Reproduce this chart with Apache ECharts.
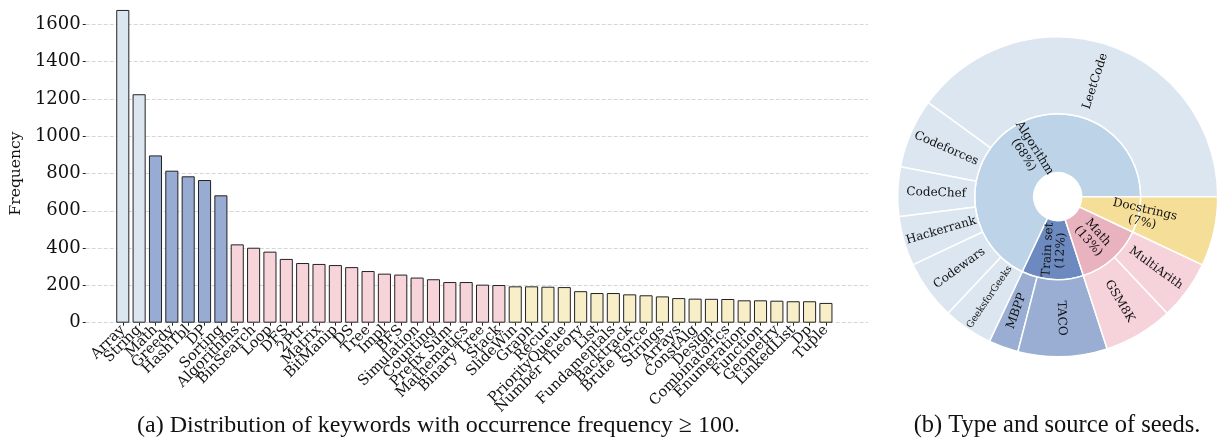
<!DOCTYPE html>
<html>
<head>
<meta charset="utf-8">
<script src="https://cdn.jsdelivr.net/npm/echarts@6/dist/echarts.min.js"></script>
<style>
html,body{margin:0;padding:0;background:#fff;}
#main{width:1218px;height:439px;}
</style>
</head>
<body>
<div id="main"></div>
<script>
/************************ 数据 ************************/
var keywords = ['Array','String','Math','Greedy','HashTbl','DP','Sorting','Algorithms','BinSearch','Loop',
	'DFS','2Ptr','Matrix','BitManip','DS','Tree','Impl','BFS','Simulation','Counting',
	'Prefix Sum','Mathematics','Binary Tree','Stack','SlideWin','Graph','Recur','PriorityQueue','Number Theory','List',
	'Fundamentals','Backtrack','Brute Force','Strings','Arrays','ConstAlg','Design','Combinatorics','Enumeration','Function',
	'Geometry','LinkedList','Dp','Tuple'];
var freq = [1677,1225,897,815,785,765,683,420,402,381,
	342,320,315,309,298,277,263,258,242,233,
	218,218,204,202,195,195,193,191,169,159,
	159,152,147,141,132,129,128,127,120,120,
	118,115,115,106];
var groupSizes = [2,5,17,20];
var groupColors = ['#dce6f1','#98acd3','#f7d3da','#f8efc8'];
var yTicks = [0,200,400,600,800,1000,1200,1400,1600];

// 种子类型与来源(百分比)
var seedTypes = ['Algorithm','Train set','Math','Docstrings'];
var seedPercent = [68,12,13,7];
var seedSources = [
	['LeetCode','Codeforces','CodeChef','Hackerrank','Codewars','GeeksforGeeks'],
	['MBPP','TACO'],
	['GSM8K','MultiArith'],
	[]
];
var sourcePercent = [
	[40,7,5,5,6,5],
	[3,9],
	[7,6],
	[]
];
var innerColors = ['#bdd3e8','#6c8abf','#e8b3be','#f5df98'];
var outerColors = ['#dce6f0','#9aaed3','#f6d3da','#f5df98'];
/************************ 数据 ************************/

var serif = 'DejaVu Serif';

// 每根柱子的颜色
var barData = [];
var idx = 0;
for(var g = 0; g < groupSizes.length; g++){
	for(var k = 0; k < groupSizes[g]; k++){
		barData.push({value: freq[idx], itemStyle: {color: groupColors[g]}});
		idx++;
	}
}

// 旭日图数据
var sunData = [];
for(var i = 0; i < seedTypes.length; i++){
	var children = [];
	for(var j = 0; j < seedSources[i].length; j++){
		var child = {
			name: seedSources[i][j],
			value: sourcePercent[i][j],
			itemStyle: {color: outerColors[i]}
		};
		if(seedSources[i][j] == 'GeeksforGeeks'){
			child.label = {fontSize: 9.5};
		}
		children.push(child);
	}
	var node = {
		name: seedTypes[i],
		value: seedPercent[i],
		itemStyle: {color: innerColors[i]},
		label: {formatter: seedTypes[i] + '\n(' + seedPercent[i] + '%)', lineHeight: 13},
		children: children
	};
	if(children.length == 0){
		// Docstrings 占满内外两圈
		node.children = [{name: '', value: seedPercent[i], itemStyle: {color: outerColors[i]}, label: {show: false}}];
		node.label = {
			formatter: '{a|' + seedTypes[i] + '}\n{a|(' + seedPercent[i] + '%)}',
			align: 'left',
			distance: 31,
			rich: {a: {width: 66, align: 'center', fontFamily: serif, fontSize: 12, lineHeight: 13, color: '#111'}}
		};
	}
	sunData.push(node);
}

var chart = echarts.init(document.getElementById('main'));
var option = {
	backgroundColor: '#fff',
	animation: false,
	textStyle: {fontFamily: serif},
	grid: [
		{left: 80, right: 350, top: 24.3, bottom: 116.3},
		{left: 114.6, right: 383.9, top: 5.65, bottom: 116.3}
	],
	xAxis: [
		{type: 'value', gridIndex: 0, show: false},
		{
			type: 'category', gridIndex: 1, data: keywords,
			axisLine: {show: false},
			axisTick: {show: true, alignWithLabel: true, length: 3, lineStyle: {color: '#222'}},
			axisLabel: {rotate: 45, interval: 0, margin: 5, fontSize: 14.5, color: '#111', fontFamily: serif}
		}
	],
	yAxis: [
		{
			type: 'value', gridIndex: 0, min: yTicks[0], max: yTicks[yTicks.length - 1], interval: 200,
			name: 'Frequency', nameLocation: 'middle', nameGap: 54,
			nameTextStyle: {fontSize: 15.5, color: '#111', fontFamily: serif},
			axisLine: {show: false},
			axisTick: {show: true, length: 3, lineStyle: {color: '#222'}},
			axisLabel: {fontSize: 18, color: '#111', margin: 5, fontFamily: serif,
				formatter: function(v){ return String(v); }},
			splitLine: {show: true, lineStyle: {color: '#cccccc', type: [4, 2], width: 0.8}}
		},
		{type: 'value', gridIndex: 1, min: 0, max: 1700, show: false}
	],
	series: [
		{
			type: 'bar', xAxisIndex: 1, yAxisIndex: 1,
			data: barData, barWidth: '80%',
			itemStyle: {borderColor: '#222', borderWidth: 1},
			emphasis: {disabled: true}
		},
		{
			type: 'sunburst',
			center: [1057.7, 196.7],
			startAngle: 0,
			clockwise: false,
			sort: null,
			nodeClick: false,
			emphasis: {disabled: true},
			data: sunData,
			itemStyle: {borderColor: '#fff', borderWidth: 1.5},
			label: {rotate: 'radial', fontFamily: serif, fontSize: 12, color: '#111', minAngle: 0},
			levels: [
				{},
				{r0: 24, r: 83},
				{r0: 83, r: 160}
			]
		}
	],
	graphic: [
		{
			type: 'text', x: 438.5, y: 426,
			style: {text: '(a) Distribution of keywords with occurrence frequency \u2265 100.', fill: '#111',
				font: '24px "Liberation Serif"', textAlign: 'center', textVerticalAlign: 'middle'}
		},
		{
			type: 'text', x: 1057, y: 426,
			style: {text: '(b) Type and source of seeds.', fill: '#111',
				font: '24.5px "Liberation Serif"', textAlign: 'center', textVerticalAlign: 'middle'}
		}
	]
};
chart.setOption(option);
</script>
</body>
</html>
